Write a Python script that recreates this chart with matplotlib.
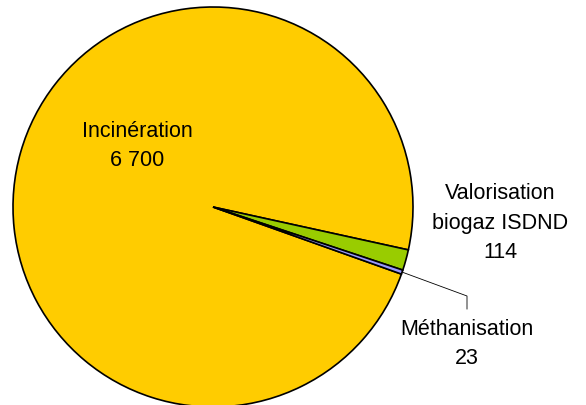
import numpy as np
import matplotlib
matplotlib.use("Agg")
import matplotlib.pyplot as plt

categories = ["Incinération", "Valorisation\nbiogaz ISDND", "Méthanisation"]
values = [6700, 114, 23]
value_labels = ["6 700", "114", "23"]
colors = ["#FFCC00", "#99CC00", "#9999FF"]

plt.rcParams['font.family'] = ['Liberation Sans', 'DejaVu Sans']

W, H = 586, 406
fig = plt.figure(figsize=(W / 100, H / 100), dpi=100)
ax = fig.add_axes([0, 0, 1, 1])

wedges, _ = ax.pie(values, colors=colors, startangle=-19.6, counterclock=False,
                   radius=1.0, center=(0, 0),
                   wedgeprops=dict(edgecolor="black", linewidth=1.2))

cx_px, cy_px, r_px = 213, 208, 200
ax.set_xlim(-cx_px / r_px, (W - cx_px) / r_px)
ax.set_ylim(-(H - cy_px) / r_px, cy_px / r_px)
ax.set_aspect('auto')
ax.axis('off')

fs = 15.5
label_pos = [(-0.38, 0.31), (1.435, -0.075), (1.27, -0.68)]
for cat, vl, (x, y) in zip(categories, value_labels, label_pos):
    ax.text(x, y, f"{cat}\n{vl}", ha="center", va="center", fontsize=fs,
            linespacing=1.55, color="black")

# leader line for Méthanisation
w = wedges[2]
mid = np.deg2rad((w.theta1 + w.theta2) / 2)
x0, y0 = np.cos(mid), np.sin(mid)
ax.plot([x0, 1.27, 1.27], [y0, -0.445, -0.51], color="black", linewidth=0.6)

fig.savefig("out.png", dpi=100)
